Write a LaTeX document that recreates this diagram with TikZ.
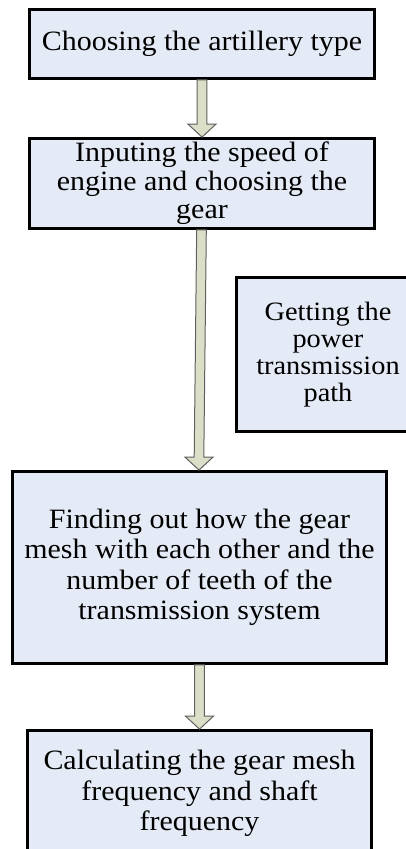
\documentclass[tikz,border=0pt]{standalone}
\usepackage{fontspec}
\setmainfont{Liberation Serif}[FakeStretch=1.07]
\usetikzlibrary{calc}
\definecolor{boxfill}{HTML}{E5EBF6}
\definecolor{arrfill}{HTML}{DCDFC8}
\definecolor{arrline}{HTML}{606060}
\newcommand{\blockarrow}[2]{%
  \path[blockarr] let \p1=(#1), \p2=(#2) in
    (\x1-4.8pt,\y1) -- (\x2-4.8pt,\y2+13pt) -- (\x2-14pt,\y2+13pt) -- (\x2,\y2)
    -- (\x2+14pt,\y2+13pt) -- (\x2+4.8pt,\y2+13pt) -- (\x1+4.8pt,\y1) -- cycle;}
\tikzset{
  flowbox/.style={draw=black, line width=2.8pt, fill=boxfill, rectangle,
    inner sep=0pt, align=center, text=black},
  bigtext/.style={font=\fontsize{28}{30.5}\selectfont},
  tighttext/.style={font=\fontsize{28}{28.5}\selectfont},
  midtext/.style={font=\fontsize{26.5}{27}\selectfont},
  blockarr/.style={draw=arrline, line width=1pt, fill=arrfill, line join=miter}
}
\begin{document}
\begin{tikzpicture}[x=1pt, y=-1pt]
\useasboundingbox (0,0) rectangle (406,849);
\clip (0,0) rectangle (406,849);
\fill[white] (0,0) rectangle (406,849);

\node[flowbox, bigtext, minimum width=345pt, minimum height=69pt] (b1) at (202,44)
  {Choosing the artillery type};
\node[flowbox, tighttext, minimum width=345pt, minimum height=90pt] (b2) at (202,183.5)
  {Inputing the speed of\\engine and choosing the\\gear};
\node[flowbox, midtext, minimum width=183.5pt, minimum height=154pt] (b3) at (328,354.5)
  {Getting the\\power\\transmission\\path};
\node[flowbox, bigtext, minimum width=374pt, minimum height=192pt] (b4) at (199.5,567.5)
  {Finding out how the gear\\mesh with each other and the\\number of teeth of the\\transmission system};
\node[flowbox, bigtext, minimum width=344pt, minimum height=126.5pt] (b5) at (199.5,793.75)
  {Calculating the gear mesh\\frequency and shaft\\frequency};

\blockarrow{b1.south}{b2.north}
\blockarrow{$(b2.south)+(-0.5,0)$}{$(b4.north)+(-0.5,0)$}
\blockarrow{b4.south}{b5.north}
\end{tikzpicture}
\end{document}
